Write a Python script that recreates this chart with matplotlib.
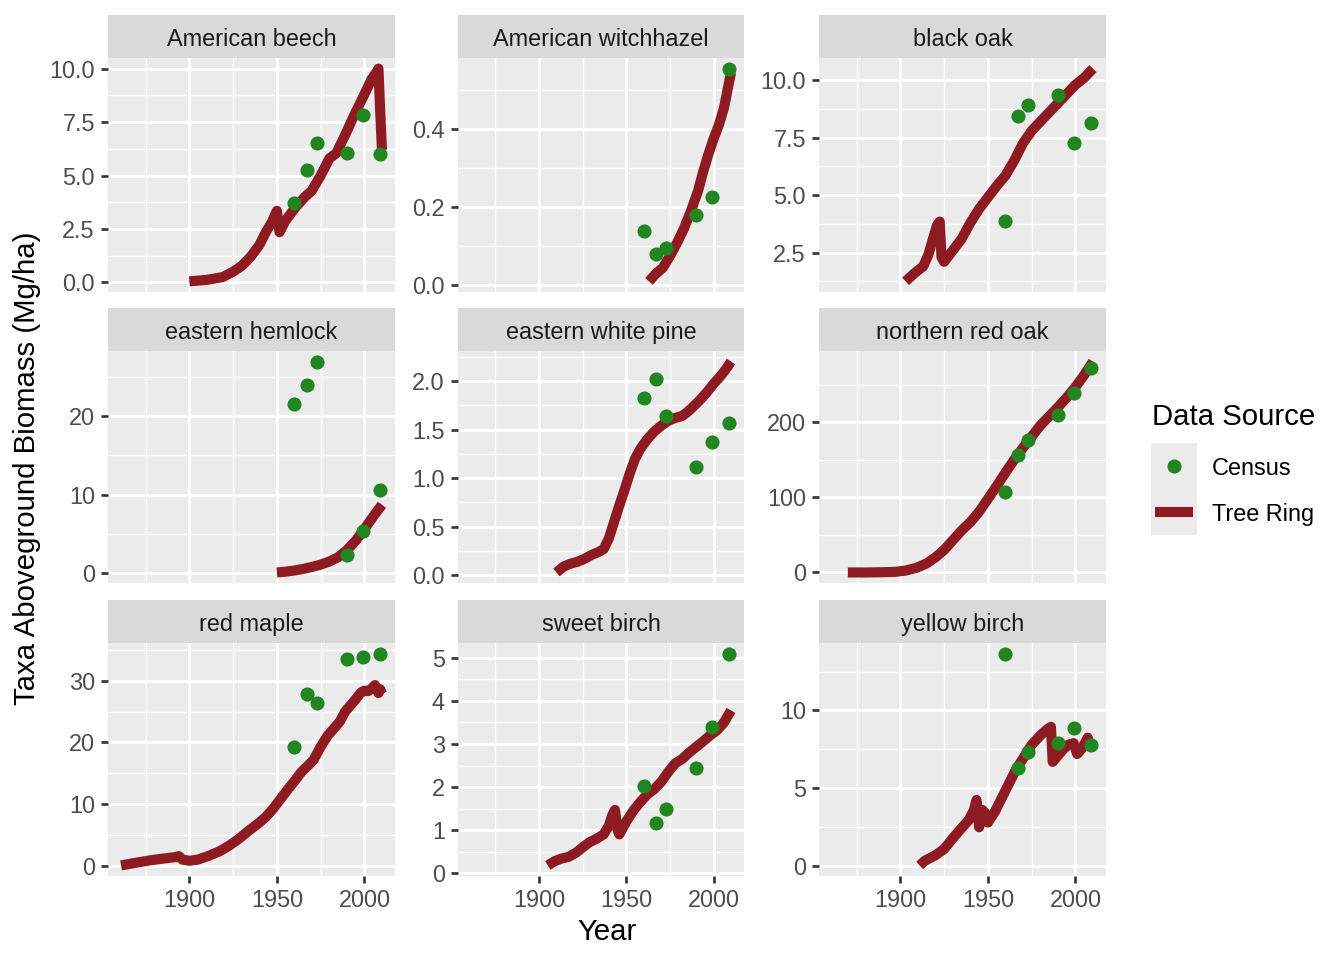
import matplotlib
matplotlib.use("Agg")
import matplotlib.pyplot as plt
from matplotlib.ticker import MultipleLocator, AutoMinorLocator, FormatStrFormatter

plt.rcParams['font.family'] = ['Liberation Sans', 'DejaVu Sans']

TAXA = ["American beech", "American witchhazel", "black oak",
        "eastern hemlock", "eastern white pine", "northern red oak",
        "red maple", "sweet birch", "yellow birch"]

CENSUS_YEARS = [1960, 1967, 1973, 1990, 1999, 2009]

# census biomass per taxon (Mg/ha), same order as CENSUS_YEARS
beech_census = [3.72, 5.28, 6.51, 6.07, 7.84, 6.01]
witchhazel_census = [0.138, 0.081, 0.096, 0.179, 0.227, 0.555]
black_oak_census = [3.86, 8.42, 8.90, 9.34, 7.25, 8.13]
hemlock_census = [21.6, 24.0, 27.0, 2.34, 5.32, 10.55]
white_pine_census = [1.83, 2.02, 1.64, 1.11, 1.37, 1.57]
red_oak_census = [107, 157, 177, 210, 239, 273]
red_maple_census = [19.3, 27.9, 26.4, 33.5, 33.8, 34.4]
sweet_birch_census = [2.02, 1.17, 1.48, 2.45, 3.39, 5.10]
yellow_birch_census = [13.65, 6.29, 7.32, 7.90, 8.90, 7.79]

# tree ring reconstructions (year, biomass)
beech_ring_yr = [1900, 1910, 1919, 1925, 1930, 1935, 1940, 1944, 1947, 1950, 1951.5,
                 1955, 1961, 1966, 1970, 1975, 1980, 1984, 1989, 1994, 2000, 2004,
                 2007, 2008, 2009, 2010]
beech_ring = [0.05, 0.12, 0.25, 0.5, 0.78, 1.2, 1.75, 2.4, 2.8, 3.35, 2.35,
              2.9, 3.55, 4.0, 4.3, 5.0, 5.8, 6.05, 6.9, 7.8, 8.8, 9.5,
              9.85, 10.0, 8.0, 6.2]

witchhazel_ring_yr = [1963, 1967, 1971, 1975, 1979, 1983, 1987, 1991, 1994, 1997,
                      2000, 2003, 2006, 2008, 2010]
witchhazel_ring = [0.01, 0.03, 0.045, 0.075, 0.108, 0.145, 0.19, 0.24, 0.29, 0.335,
                   0.375, 0.41, 0.455, 0.5, 0.545]

black_oak_ring_yr = [1903, 1908, 1913, 1916, 1919, 1921, 1922.5, 1923.5, 1925, 1930,
                     1935, 1940, 1945, 1950, 1955, 1960, 1965, 1970, 1975, 1980,
                     1985, 1990, 1995, 2000, 2005, 2010]
black_oak_ring = [1.25, 1.6, 1.9, 2.4, 3.2, 3.7, 3.85, 2.3, 2.1, 2.6,
                  3.1, 3.8, 4.4, 4.9, 5.4, 5.85, 6.5, 7.25, 7.8, 8.2,
                  8.6, 9.0, 9.4, 9.8, 10.1, 10.5]

hemlock_ring_yr = [1950, 1955, 1960, 1965, 1970, 1975, 1980, 1985, 1990, 1995, 2000,
                   2005, 2010]
hemlock_ring = [0.05, 0.15, 0.3, 0.5, 0.75, 1.05, 1.45, 2.0, 2.9, 4.1, 5.6,
                7.2, 8.7]

white_pine_ring_yr = [1910, 1914, 1918, 1922, 1926, 1930, 1934, 1937, 1940, 1943,
                      1946, 1949, 1952, 1955, 1958, 1962, 1966, 1970, 1974, 1978,
                      1982, 1985, 1988, 1992, 1996, 2000, 2004, 2007, 2010]
white_pine_ring = [0.03, 0.09, 0.12, 0.14, 0.17, 0.21, 0.24, 0.27, 0.38, 0.55,
                   0.72, 0.88, 1.05, 1.2, 1.3, 1.4, 1.48, 1.54, 1.59, 1.62,
                   1.64, 1.68, 1.73, 1.80, 1.88, 1.97, 2.05, 2.12, 2.2]

red_oak_ring_yr = [1870, 1880, 1890, 1897, 1903, 1909, 1915, 1920, 1925, 1930, 1935,
                   1940, 1945, 1950, 1955, 1960, 1965, 1970, 1975, 1980, 1985, 1990,
                   1995, 2000, 2005, 2010]
red_oak_ring = [0, 0, 0.3, 0.8, 2.5, 6, 12, 20, 30, 43, 56,
                67, 81, 98, 115, 133, 150, 166, 181, 196, 208, 220,
                233, 247, 263, 281]

red_maple_ring_yr = [1861, 1870, 1877, 1885, 1892, 1894, 1896, 1900, 1905, 1911,
                     1917, 1923, 1928, 1934, 1940, 1944, 1948, 1952, 1956, 1960,
                     1964, 1968, 1971, 1975, 1979, 1983, 1986, 1989, 1992, 1995,
                     1998, 2000, 2002, 2004, 2006, 2008, 2009, 2010]
red_maple_ring = [0.05, 0.5, 0.85, 1.15, 1.4, 1.55, 1.0, 0.8, 1.0, 1.6,
                  2.3, 3.3, 4.3, 5.7, 7.0, 8.0, 9.3, 10.8, 12.3, 13.7,
                  15.2, 16.3, 17.2, 19.3, 21.1, 22.4, 23.4, 25.0, 26.0, 27.0,
                  28.1, 28.4, 28.3, 28.7, 29.3, 28.0, 28.6, 27.9]

sweet_birch_ring_yr = [1905, 1909, 1913, 1917, 1921, 1925, 1929, 1933, 1937, 1940,
                       1942, 1943.5, 1945, 1946, 1950, 1954, 1958, 1962, 1966, 1970,
                       1974, 1978, 1982, 1986, 1990, 1994, 1998, 2002, 2006, 2010]
sweet_birch_ring = [0.18, 0.28, 0.34, 0.38, 0.47, 0.6, 0.72, 0.8, 0.9, 1.1,
                    1.35, 1.47, 1.0, 0.9, 1.2, 1.45, 1.65, 1.83, 1.95, 2.12,
                    2.35, 2.55, 2.65, 2.8, 2.93, 3.06, 3.2, 3.32, 3.5, 3.78]

yellow_birch_ring_yr = [1911, 1914, 1920, 1925, 1930, 1935, 1939, 1942, 1943.5, 1945,
                        1947, 1948.5, 1950, 1954, 1958, 1962, 1966, 1970, 1975, 1980,
                        1984, 1986, 1987, 1990, 1993, 1996, 1999, 2001, 2004, 2007,
                        2008, 2010]
yellow_birch_ring = [0.05, 0.35, 0.7, 1.1, 1.8, 2.45, 2.95, 3.6, 4.25, 2.5,
                     3.6, 3.4, 2.8, 3.5, 4.4, 5.3, 6.2, 6.9, 7.8, 8.4,
                     8.8, 8.95, 6.7, 7.1, 7.5, 7.8, 7.9, 7.2, 7.6, 8.25,
                     7.9, 8.1]

# y tick spacing and decimals per panel
Y_STEPS = [2.5, 0.2, 2.5, 10, 0.5, 100, 10, 1, 5]
Y_DECIMALS = [1, 1, 1, 0, 1, 0, 0, 0, 0]

panels = [
    (beech_ring_yr, beech_ring, beech_census),
    (witchhazel_ring_yr, witchhazel_ring, witchhazel_census),
    (black_oak_ring_yr, black_oak_ring, black_oak_census),
    (hemlock_ring_yr, hemlock_ring, hemlock_census),
    (white_pine_ring_yr, white_pine_ring, white_pine_census),
    (red_oak_ring_yr, red_oak_ring, red_oak_census),
    (red_maple_ring_yr, red_maple_ring, red_maple_census),
    (sweet_birch_ring_yr, sweet_birch_ring, sweet_birch_census),
    (yellow_birch_ring_yr, yellow_birch_ring, yellow_birch_census),
]

RING_COLOR = '#8E1B21'
CENSUS_COLOR = '#21861F'
PANEL_BG = '#EBEBEB'
STRIP_BG = '#D9D9D9'
RING_LW = 3.8
DOT_S = 28

W, H = 1344, 960
fig = plt.figure(figsize=(7, 5), dpi=192)

col_left = [108, 458, 819]
col_width = [287, 286, 287]
row_top = [58, 351, 643]
row_height = [234, 232, 233]
strip_h = 43

first = None
for i, (name, (ryr, rval, cval)) in enumerate(zip(TAXA, panels)):
    r, c = divmod(i, 3)
    l = col_left[c] / W
    b = 1 - (row_top[r] + row_height[r]) / H
    ax = fig.add_axes([l, b, col_width[c] / W, row_height[r] / H],
                      sharex=first)
    if first is None:
        first = ax
    ax.set_facecolor(PANEL_BG)
    for s in ax.spines.values():
        s.set_visible(False)
    ax.set_axisbelow(True)
    ax.margins(x=0.05, y=0.05)

    ax.plot(ryr, rval, color=RING_COLOR, lw=RING_LW,
            solid_capstyle='butt', solid_joinstyle='round', zorder=2)
    ax.scatter(CENSUS_YEARS, cval, s=DOT_S, color=CENSUS_COLOR,
               linewidths=0, zorder=3)

    ax.xaxis.set_major_locator(MultipleLocator(50))
    ax.xaxis.set_minor_locator(AutoMinorLocator(2))
    ax.yaxis.set_major_locator(MultipleLocator(Y_STEPS[i]))
    ax.yaxis.set_minor_locator(AutoMinorLocator(2))
    ax.yaxis.set_major_formatter(FormatStrFormatter('%.' + str(Y_DECIMALS[i]) + 'f'))
    ax.grid(which='major', color='white', lw=1.1)
    ax.grid(which='minor', color='white', lw=0.55)
    ax.tick_params(which='major', length=2.75, width=1.0, color='#333333',
                   labelsize=8.8, labelcolor='#4D4D4D', pad=2.2)
    ax.tick_params(which='minor', length=0)
    if r < 2:
        ax.tick_params(axis='x', which='major', length=0, labelbottom=False)

    sax = fig.add_axes([l, 1 - row_top[r] / H, col_width[c] / W, strip_h / H])
    sax.set_facecolor(STRIP_BG)
    sax.set_xticks([])
    sax.set_yticks([])
    for s in sax.spines.values():
        s.set_visible(False)
    sax.text(0.5, 0.44, name, ha='center', va='center', fontsize=8.8,
             color='#1A1A1A', transform=sax.transAxes)

all_years = [y for p in panels for y in p[0]] + CENSUS_YEARS
span = max(all_years) - min(all_years)
first.set_xlim(min(all_years) - 0.05 * span, max(all_years) + 0.05 * span)

fig.text(607 / W, 1 - 932 / H, 'Year', ha='center', va='center', fontsize=11)
fig.text(27 / W, 1 - 468 / H, 'Taxa Aboveground Biomass (Mg/ha)',
         ha='center', va='center', rotation=90, fontsize=11)

# legend
fig.text(1152 / W, 1 - 417 / H, 'Data Source', ha='left', va='center', fontsize=11)
lax = fig.add_axes([1151 / W, 1 - 535 / H, 46 / W, 92 / H])
lax.set_facecolor(PANEL_BG)
lax.set_xlim(0, 1)
lax.set_ylim(0, 2)
lax.set_xticks([])
lax.set_yticks([])
for s in lax.spines.values():
    s.set_visible(False)
lax.scatter([0.5], [1.5], s=DOT_S, color=CENSUS_COLOR, linewidths=0)
lax.plot([0.08, 0.92], [0.5, 0.5], color=RING_COLOR, lw=RING_LW, solid_capstyle='butt')
fig.text(1212 / W, 1 - 468 / H, 'Census', ha='left', va='center', fontsize=8.8)
fig.text(1212 / W, 1 - 514 / H, 'Tree Ring', ha='left', va='center', fontsize=8.8)

fig.savefig('out.png', dpi=192)
